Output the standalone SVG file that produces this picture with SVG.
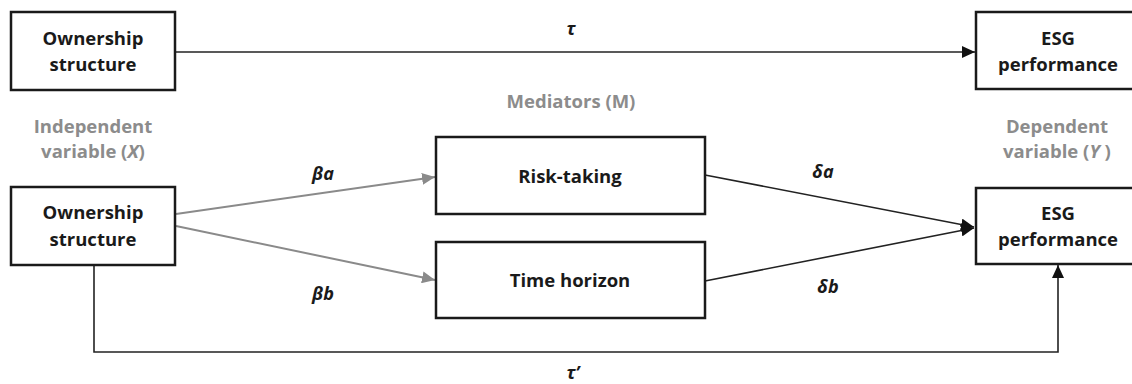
<svg xmlns="http://www.w3.org/2000/svg" width="1132" height="384" viewBox="0 0 1132 384">
<style>
.box{fill:#fff;stroke:#1a1a1a;stroke-width:2.5}
.t{font-family:"Open Sans","Liberation Sans",sans-serif;font-weight:700;font-size:18.5px;fill:#1a1a1a;text-anchor:middle}
.g{fill:#8c8c8c}
.lbl{font-family:"Open Sans","Liberation Sans",sans-serif;font-weight:700;font-style:italic;font-size:18px;fill:#1a1a1a;text-anchor:middle}
.blk{fill:none;stroke:#222;stroke-width:1.6}
.gry{fill:none;stroke:#8a8a8a;stroke-width:2}
</style>
<defs>
<marker id="ab" markerWidth="14" markerHeight="12" refX="13" refY="6" orient="auto" markerUnits="userSpaceOnUse"><path d="M0,0 L13,6 L0,12 z" fill="#111"/></marker>
<marker id="ag" markerWidth="14" markerHeight="12" refX="13" refY="6" orient="auto" markerUnits="userSpaceOnUse"><path d="M0,0 L13,6 L0,12 z" fill="#8a8a8a"/></marker>
</defs>
<rect width="1132" height="384" fill="#fff"/>
<g id="connectors">
<line class="blk" x1="175" y1="52" x2="975" y2="52" marker-end="url(#ab)"/>
<line class="gry" x1="176" y1="214" x2="435" y2="177" marker-end="url(#ag)"/>
<line class="gry" x1="176" y1="226" x2="435" y2="280" marker-end="url(#ag)"/>
<line class="blk" x1="705" y1="175" x2="974" y2="227" marker-end="url(#ab)"/>
<line class="blk" x1="705" y1="281" x2="974" y2="228" marker-end="url(#ab)"/>
<polyline class="blk" points="94,265 94,352 1058,352 1058,265" marker-end="url(#ab)"/>
<text class="lbl" x="571" y="35">τ</text>
<text class="lbl" x="323" y="180">βa</text>
<text class="lbl" x="323" y="300">βb</text>
<text class="lbl" x="823" y="178">δa</text>
<text class="lbl" x="828" y="293">δb</text>
<text class="lbl" x="573" y="379">τ’</text>
</g>
<g id="node-own-top">
<rect class="box" x="11" y="12" width="164" height="78"/>
<text class="t" x="93" y="45">Ownership</text>
<text class="t" x="93" y="71">structure</text>
</g>
<g id="node-esg-top">
<rect class="box" x="976" y="12" width="170" height="77"/>
<text class="t" x="1058" y="45">ESG</text>
<text class="t" x="1058" y="71">performance</text>
</g>
<g id="label-x">
<text class="t g" x="93" y="133">Independent</text>
<text class="t g" x="93" y="158">variable (<tspan font-style="italic">X</tspan>)</text>
</g>
<g id="label-m">
<text class="t g" x="571" y="108">Mediators (M)</text>
</g>
<g id="label-y">
<text class="t g" x="1057" y="133">Dependent</text>
<text class="t g" x="1057" y="158">variable (<tspan font-style="italic">Y</tspan> )</text>
</g>
<g id="node-own">
<rect class="box" x="11" y="187" width="164" height="78"/>
<text class="t" x="93" y="219">Ownership</text>
<text class="t" x="93" y="246">structure</text>
</g>
<g id="node-risk">
<rect class="box" x="436" y="137" width="269" height="77"/>
<text class="t" x="570" y="183">Risk-taking</text>
</g>
<g id="node-time">
<rect class="box" x="436" y="242" width="269" height="76"/>
<text class="t" x="570" y="287">Time horizon</text>
</g>
<g id="node-esg">
<rect class="box" x="976" y="188" width="170" height="76"/>
<text class="t" x="1058" y="220">ESG</text>
<text class="t" x="1058" y="246">performance</text>
</g>
</svg>
